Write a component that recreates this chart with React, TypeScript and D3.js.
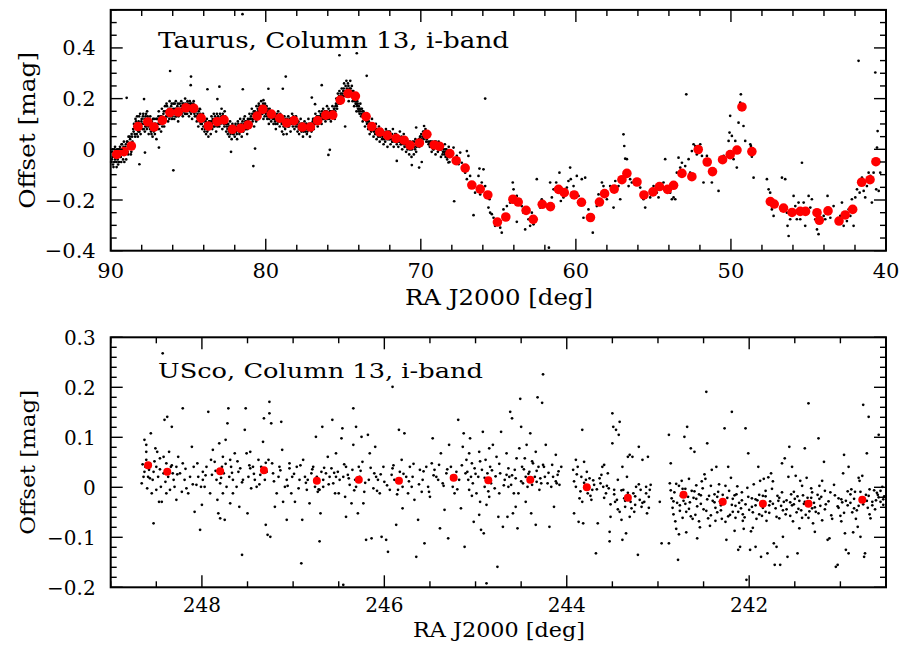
import React from "react";
import * as d3 from "d3";

// ---------------- Taurus panel data ----------------
const tauXTicks = [90, 80, 70, 60, 50, 40];
const tauYTicks = [-0.4, -0.2, 0, 0.2, 0.4];

const tauBinRA = [89.61,89.14,88.67,88.24,87.61,87.21,86.67,86.18,85.65,85.15,84.65,84.17,83.70,83.14,82.69,82.15,81.61,81.14,80.56,80.19,79.64,79.10,78.65,78.18,77.64,77.12,76.65,76.13,75.68,75.19,74.69,74.22,73.53,73.16,72.65,72.15,71.59,71.08,70.69,70.09,69.61,69.14,68.80,68.13,
67.72,67.14,66.71,66.17,65.68,65.06,64.52,64.06,63.72,63.21,62.75,62.17,61.64,61.12,60.75,60.11,59.64,59.06,58.48,58.15,57.53,57.03,56.71,56.06,55.61,55.03,54.61,54.09,53.70,53.16,52.52,52.11,51.53,51.19,50.54,50.05,49.61,49.29,48.65,47.46,47.21,46.61,46.06,45.53,45.19,44.45,44.30,43.74,43.03,42.63,42.15,41.57,41.03,40.65];
const tauBinOff = [-0.020,-0.009,0.013,0.090,0.108,0.088,0.114,0.145,0.147,0.164,0.162,0.123,0.092,0.109,0.116,0.079,0.083,0.096,0.131,0.158,0.139,0.123,0.104,0.113,0.088,0.088,0.113,0.135,0.135,0.194,0.220,0.210,0.129,0.090,0.068,0.055,0.043,0.036,0.016,0.025,0.059,0.017,0.012,-0.017,
-0.045,-0.074,-0.141,-0.157,-0.180,-0.287,-0.267,-0.197,-0.208,-0.241,-0.276,-0.217,-0.226,-0.158,-0.171,-0.180,-0.209,-0.269,-0.208,-0.175,-0.157,-0.120,-0.095,-0.129,-0.180,-0.168,-0.147,-0.158,-0.142,-0.095,-0.108,-0.001,-0.050,-0.088,-0.041,-0.021,-0.003,0.167,-0.009,-0.206,-0.216,-0.232,-0.249,-0.245,-0.245,-0.250,-0.280,-0.243,-0.283,-0.259,-0.237,-0.130,-0.120,-0.049];

const tauDotsBand = [
[89.92,-0.04],[89.88,0.00],[89.85,-0.06],[89.80,-0.02],[89.76,-0.05],[89.72,0.01],[89.68,-0.03],[89.62,-0.07],[89.58,0.00],[89.55,-0.04],[89.50,-0.02],[89.46,-0.05],
[89.40,0.01],[89.35,-0.03],[89.30,0.02],[89.25,-0.01],[89.20,-0.04],[89.15,0.03],[89.10,-0.02],[89.05,0.01],[89.00,-0.04],
[88.95,0.03],[88.90,-0.01],[88.85,0.05],[88.80,0.02],[88.75,0.04],[88.70,-0.02],[88.65,0.06],[88.60,0.03],[88.55,0.08],
[88.50,0.10],[88.45,0.06],[88.40,0.12],[88.35,0.08],[88.30,0.13],[88.25,0.05],[88.20,0.11],[88.15,0.07],[88.10,0.14],[88.05,0.09],
[88.00,0.12],[87.95,0.08],[87.90,0.14],[87.85,0.10],[87.80,0.07],[87.75,0.13],[87.70,0.09],[87.65,0.15],[87.60,0.12],[87.55,0.06],[87.50,0.10],
[87.45,0.13],[87.40,0.07],[87.35,0.11],[87.30,0.05],[87.25,0.09],[87.20,0.12],[87.15,0.06],[87.10,0.10],[87.05,0.04],
[87.00,0.12],[86.95,0.08],[86.90,0.15],[86.85,0.10],[86.80,0.13],[86.75,0.07],[86.70,0.16],[86.65,0.11],[86.60,0.14],[86.55,0.09],
[86.50,0.17],[86.45,0.12],[86.40,0.18],[86.35,0.14],[86.30,0.11],[86.25,0.16],[86.20,0.19],[86.15,0.13],[86.10,0.17],[86.05,0.12],
[86.00,0.15],[85.95,0.18],[85.90,0.12],[85.85,0.16],[85.80,0.19],[85.75,0.13],[85.70,0.17],[85.65,0.11],[85.60,0.15],[85.55,0.18],
[85.50,0.14],[85.45,0.19],[85.40,0.16],[85.35,0.13],[85.30,0.18],[85.25,0.15],[85.20,0.20],[85.15,0.14],[85.10,0.17],[85.05,0.19],
[85.00,0.16],[84.95,0.13],[84.90,0.19],[84.85,0.15],[84.80,0.18],[84.75,0.12],[84.70,0.16],[84.65,0.19],[84.60,0.14],[84.55,0.17],
[84.50,0.15],[84.45,0.11],[84.40,0.14],[84.35,0.09],[84.30,0.13],[84.25,0.16],[84.20,0.10],[84.15,0.12],[84.10,0.08],[84.05,0.14],
[84.00,0.11],[83.95,0.07],[83.90,0.10],[83.85,0.06],[83.80,0.12],[83.75,0.08],[83.70,0.05],[83.65,0.11],[83.60,0.09],[83.55,0.06],
[83.50,0.13],[83.45,0.08],[83.40,0.11],[83.35,0.14],[83.30,0.09],[83.25,0.12],[83.20,0.07],[83.15,0.14],[83.10,0.10],[83.05,0.12],
[83.00,0.09],[82.95,0.14],[82.90,0.11],[82.85,0.16],[82.80,0.08],[82.75,0.13],[82.70,0.10],[82.65,0.15],[82.60,0.12],[82.55,0.07],
[82.50,0.10],[82.45,0.06],[82.40,0.09],[82.35,0.05],[82.30,0.11],[82.25,0.07],[82.20,0.04],[82.15,0.10],[82.10,0.06],[82.05,0.08],
[82.00,0.05],[81.95,0.10],[81.90,0.07],[81.85,0.04],[81.80,0.11],[81.75,0.08],[81.70,0.06],[81.65,0.12],[81.60,0.09],[81.55,0.05],
[81.50,0.11],[81.45,0.07],[81.40,0.10],[81.35,0.13],[81.30,0.08],[81.25,0.11],[81.20,0.06],[81.15,0.12],[81.10,0.09],[81.05,0.14],
[81.00,0.10],[80.95,0.13],[80.90,0.16],[80.85,0.11],[80.80,0.14],[80.75,0.09],[80.70,0.15],[80.65,0.12],[80.60,0.17],[80.55,0.13],
[80.50,0.15],[80.45,0.18],[80.40,0.13],[80.35,0.16],[80.30,0.19],[80.25,0.14],[80.20,0.17],[80.15,0.12],[80.10,0.16],[80.05,0.18],
[80.00,0.14],[79.95,0.17],[79.90,0.12],[79.85,0.15],[79.80,0.10],[79.75,0.16],[79.70,0.13],[79.65,0.11],[79.60,0.15],[79.55,0.12],
[79.50,0.10],[79.45,0.14],[79.40,0.11],[79.35,0.08],[79.30,0.13],[79.25,0.10],[79.20,0.15],[79.15,0.12],[79.10,0.09],[79.05,0.13],
[79.00,0.11],[78.95,0.07],[78.90,0.12],[78.85,0.09],[78.80,0.13],[78.75,0.08],[78.70,0.11],[78.65,0.06],[78.60,0.10],[78.55,0.13],
[78.50,0.09],[78.45,0.12],[78.40,0.07],[78.35,0.11],[78.30,0.14],[78.25,0.09],[78.20,0.12],[78.15,0.08],[78.10,0.11],[78.05,0.13],
[78.00,0.10],[77.95,0.07],[77.90,0.11],[77.85,0.06],[77.80,0.09],[77.75,0.12],[77.70,0.07],[77.65,0.10],[77.60,0.05],[77.55,0.08],
[77.50,0.11],[77.45,0.07],[77.40,0.10],[77.35,0.06],[77.30,0.09],[77.25,0.12],[77.20,0.08],[77.15,0.05],[77.10,0.10],[77.05,0.07],
[77.00,0.09],[76.95,0.12],[76.90,0.08],[76.85,0.11],[76.80,0.14],[76.75,0.10],[76.70,0.13],[76.65,0.09],[76.60,0.12],[76.55,0.15],
[76.50,0.11],[76.45,0.14],[76.40,0.10],[76.35,0.13],[76.30,0.16],[76.25,0.12],[76.20,0.15],[76.15,0.11],[76.10,0.14],[76.05,0.17],
[76.00,0.13],[75.95,0.16],[75.90,0.12],[75.85,0.15],[75.80,0.11],[75.75,0.14],[75.70,0.17],[75.65,0.13],[75.60,0.16],[75.55,0.12],
[75.50,0.17],[75.45,0.20],[75.40,0.16],[75.35,0.22],[75.30,0.19],[75.25,0.23],[75.20,0.18],[75.15,0.21],[75.10,0.24],[75.05,0.20],
[75.00,0.23],[74.95,0.26],[74.90,0.21],[74.85,0.25],[74.80,0.27],[74.75,0.22],[74.70,0.26],[74.65,0.19],[74.60,0.24],[74.55,0.27],
[74.50,0.22],[74.45,0.25],[74.40,0.19],[74.35,0.23],[74.30,0.17],[74.25,0.21],[74.20,0.18],[74.15,0.15],[74.10,0.19],[74.05,0.16],
[74.00,0.17],[73.95,0.14],[73.90,0.18],[73.85,0.13],[73.80,0.16],[73.75,0.11],[73.70,0.15],[73.65,0.12],[73.60,0.09],[73.55,0.14],[73.50,0.11],
[73.45,0.12],[73.40,0.08],[73.35,0.11],[73.30,0.06],[73.25,0.10],[73.20,0.07],[73.15,0.12],[73.10,0.09],[73.05,0.05],
[73.00,0.09],[72.95,0.06],[72.90,0.10],[72.85,0.04],[72.80,0.08],[72.75,0.05],[72.70,0.09],[72.65,0.03],[72.60,0.07],
[72.55,0.08],[72.50,0.04],[72.45,0.07],[72.40,0.02],[72.35,0.06],[72.30,0.03],[72.25,0.08],[72.20,0.05],[72.15,0.01],[72.10,0.07],
[72.05,0.04],[72.00,0.07],[71.95,0.02],[71.90,0.06],[71.85,0.03],[71.80,0.08],[71.75,0.01],[71.70,0.05],[71.65,0.03],[71.60,0.06],[71.55,0.02],
[71.50,0.05],[71.45,0.01],[71.40,0.04],[71.35,0.07],[71.30,0.02],[71.25,0.05],[71.20,0.00],[71.15,0.04],[71.10,0.06],[71.05,0.01],
[71.00,0.03],[70.95,-0.01],[70.90,0.04],[70.85,0.00],[70.80,0.02],[70.75,-0.02],[70.70,0.03],[70.65,0.00],[70.60,-0.03],
[70.50,0.02],[70.45,-0.02],[70.40,0.01],[70.35,0.04],[70.30,-0.01],[70.20,0.03],[70.10,0.01],[70.05,0.05],[70.00,0.02],
[69.95,0.04],[69.85,0.07],[69.75,0.05],[69.70,0.08],[69.65,0.03],[69.55,0.06],[69.50,0.02],
[69.40,0.03],[69.30,-0.01],[69.25,0.02],[69.20,0.00],[69.10,0.03],[69.05,-0.02],[69.00,0.01],
[68.95,0.02],[68.90,-0.01],[68.85,0.03],[68.75,0.00],[68.70,-0.03],[68.65,0.02],[68.60,-0.02],
[68.50,-0.01],[68.45,0.02],[68.40,-0.03],[68.35,0.00],[68.30,-0.04],[68.25,-0.01],[68.20,0.01],[68.15,-0.05]
];

const tauDotsCore = [
[89.97,-0.05],[89.92,-0.01],[89.87,-0.03],[89.82,-0.07],[89.77,0.00],[89.72,-0.04],[89.67,-0.01],[89.62,-0.05],[89.57,-0.02],[89.52,-0.06],[89.47,0.00],
[89.42,-0.03],[89.37,0.00],[89.32,-0.05],[89.27,0.02],[89.22,-0.02],[89.17,0.01],[89.12,-0.05],[89.07,-0.01],[89.02,0.02],
[88.97,0.00],[88.92,0.03],[88.87,-0.02],[88.82,0.01],[88.77,0.05],[88.72,0.02],[88.67,-0.01],[88.62,0.05],[88.57,0.02],[88.52,0.07],
[88.47,0.09],[88.42,0.05],[88.37,0.11],[88.32,0.06],[88.27,0.10],[88.22,0.07],[88.17,0.13],[88.12,0.09],[88.07,0.06],[88.02,0.11],
[87.97,0.10],[87.92,0.13],[87.87,0.08],[87.82,0.12],[87.77,0.09],[87.72,0.14],[87.67,0.08],[87.62,0.13],[87.57,0.09],[87.52,0.12],
[87.47,0.08],[87.42,0.11],[87.37,0.06],[87.32,0.10],[87.27,0.12],[87.22,0.07],[87.17,0.10],[87.12,0.08],[87.07,0.12],[87.02,0.09],
[86.97,0.10],[86.92,0.13],[86.87,0.08],[86.82,0.12],[86.77,0.10],[86.72,0.13],[86.67,0.09],[86.62,0.12],[86.57,0.15],[86.52,0.11],
[86.47,0.15],[86.42,0.13],[86.37,0.17],[86.32,0.13],[86.27,0.15],[86.22,0.12],[86.17,0.16],[86.12,0.14],[86.07,0.18],[86.02,0.13],
[85.97,0.16],[85.92,0.14],[85.87,0.18],[85.82,0.13],[85.77,0.16],[85.72,0.14],[85.67,0.18],[85.62,0.13],[85.57,0.16],[85.52,0.15],
[85.47,0.17],[85.42,0.14],[85.37,0.18],[85.32,0.15],[85.27,0.17],[85.22,0.14],[85.17,0.18],[85.12,0.16],[85.07,0.14],[85.02,0.18],
[84.97,0.17],[84.92,0.15],[84.87,0.18],[84.82,0.14],[84.77,0.17],[84.72,0.15],[84.67,0.18],[84.62,0.16],[84.57,0.13],[84.52,0.16],
[84.47,0.13],[84.42,0.16],[84.37,0.12],[84.32,0.15],[84.27,0.11],[84.22,0.14],[84.17,0.12],[84.12,0.10],[84.07,0.12],[84.02,0.09],
[83.97,0.12],[83.92,0.08],[83.87,0.11],[83.82,0.09],[83.77,0.07],[83.72,0.10],[83.67,0.08],[83.62,0.11],[83.57,0.09],[83.52,0.11],
[83.47,0.10],[83.42,0.12],[83.37,0.09],[83.32,0.11],[83.27,0.13],[83.22,0.10],[83.17,0.12],[83.12,0.09],[83.07,0.13],[83.02,0.11],
[82.97,0.12],[82.92,0.10],[82.87,0.13],[82.82,0.11],[82.77,0.14],[82.72,0.12],[82.67,0.09],[82.62,0.13],[82.57,0.10],[82.52,0.09],
[82.47,0.08],[82.42,0.10],[82.37,0.07],[82.32,0.09],[82.27,0.06],[82.22,0.09],[82.17,0.07],[82.12,0.09],[82.07,0.06],[82.02,0.09],
[81.97,0.07],[81.92,0.09],[81.87,0.06],[81.82,0.08],[81.77,0.10],[81.72,0.07],[81.67,0.09],[81.62,0.07],[81.57,0.10],[81.52,0.08],
[81.47,0.09],[81.42,0.12],[81.37,0.09],[81.32,0.11],[81.27,0.08],[81.22,0.10],[81.17,0.08],[81.12,0.11],[81.07,0.10],[81.02,0.12],
[80.97,0.12],[80.92,0.10],[80.87,0.14],[80.82,0.12],[80.77,0.15],[80.72,0.12],[80.67,0.14],[80.62,0.11],[80.57,0.14],[80.52,0.16],
[80.47,0.14],[80.42,0.17],[80.37,0.15],[80.32,0.17],[80.27,0.16],[80.22,0.14],[80.17,0.18],[80.12,0.15],[80.07,0.13],[80.02,0.16],
[79.97,0.15],[79.92,0.13],[79.87,0.16],[79.82,0.14],[79.77,0.12],[79.72,0.15],[79.67,0.14],[79.62,0.13],[79.57,0.14],[79.52,0.13],
[79.47,0.12],[79.42,0.13],[79.37,0.10],[79.32,0.12],[79.27,0.14],[79.22,0.11],[79.17,0.13],[79.12,0.11],[79.07,0.14],[79.02,0.12],
[78.97,0.10],[78.92,0.12],[78.87,0.10],[78.82,0.11],[78.77,0.09],[78.72,0.12],[78.67,0.10],[78.62,0.12],[78.57,0.09],[78.52,0.11],
[78.47,0.10],[78.42,0.12],[78.37,0.10],[78.32,0.12],[78.27,0.11],[78.22,0.13],[78.17,0.10],[78.12,0.12],[78.07,0.09],[78.02,0.11],
[77.97,0.09],[77.92,0.11],[77.87,0.08],[77.82,0.10],[77.77,0.08],[77.72,0.10],[77.67,0.08],[77.62,0.10],[77.57,0.07],[77.52,0.09],
[77.47,0.09],[77.42,0.08],[77.37,0.10],[77.32,0.07],[77.27,0.09],[77.22,0.10],[77.17,0.08],[77.12,0.10],[77.07,0.09],[77.02,0.10],
[76.97,0.11],[76.92,0.10],[76.87,0.12],[76.82,0.10],[76.77,0.12],[76.72,0.11],[76.67,0.13],[76.62,0.10],[76.57,0.13],[76.52,0.12],
[76.47,0.13],[76.42,0.12],[76.37,0.15],[76.32,0.12],[76.27,0.14],[76.22,0.13],[76.17,0.15],[76.12,0.13],[76.07,0.15],[76.02,0.12],
[75.97,0.14],[75.92,0.13],[75.87,0.15],[75.82,0.13],[75.77,0.15],[75.72,0.13],[75.67,0.15],[75.62,0.14],[75.57,0.16],[75.52,0.15],
[75.47,0.18],[75.42,0.17],[75.37,0.20],[75.32,0.18],[75.27,0.21],[75.22,0.19],[75.17,0.22],[75.12,0.20],[75.07,0.22],[75.02,0.21],
[74.97,0.24],[74.92,0.22],[74.87,0.23],[74.82,0.21],[74.77,0.24],[74.72,0.23],[74.67,0.25],[74.62,0.22],[74.57,0.23],[74.52,0.24],
[74.47,0.21],[74.42,0.23],[74.37,0.20],[74.32,0.22],[74.27,0.19],[74.22,0.20],[74.17,0.18],[74.12,0.17],[74.07,0.18],[74.02,0.15],
[73.97,0.16],[73.92,0.15],[73.87,0.16],[73.82,0.14],[73.77,0.15],[73.72,0.13],[73.67,0.14],[73.62,0.12],[73.57,0.13],[73.52,0.12],
[73.47,0.10],[73.42,0.11],[73.37,0.09],[73.32,0.10],[73.27,0.08],[73.22,0.10],[73.17,0.08],[73.12,0.10],[73.07,0.08],[73.02,0.07],
[72.97,0.08],[72.92,0.07],[72.87,0.08],[72.82,0.06],[72.77,0.07],[72.72,0.06],[72.67,0.08],[72.62,0.05],[72.57,0.07],[72.52,0.06],
[72.47,0.05],[72.42,0.07],[72.37,0.04],[72.32,0.06],[72.27,0.05],[72.22,0.07],[72.17,0.04],[72.12,0.06],[72.07,0.05],[72.02,0.04],
[71.97,0.05],[71.92,0.04],[71.87,0.06],[71.82,0.03],[71.77,0.05],[71.72,0.04],[71.67,0.06],[71.62,0.04],[71.57,0.03],[71.52,0.04],
[71.47,0.03],[71.42,0.05],[71.37,0.03],[71.32,0.04],[71.27,0.02],[71.22,0.04],[71.17,0.03],[71.12,0.02],[71.07,0.04],[71.02,0.02],
[70.97,0.02],[70.92,0.01],[70.87,0.03],[70.82,0.01],[70.77,0.02],[70.72,0.00],[70.67,0.02],[70.62,0.01],[70.57,0.00],[70.52,0.03],
[70.47,0.01],[70.42,0.03],[70.37,0.00],[70.32,0.02],[70.27,0.01],[70.22,0.03],[70.17,0.02],[70.12,0.04],[70.07,0.03],[70.02,0.05],
[69.97,0.06],[69.92,0.03],[69.87,0.05],[69.82,0.04],[69.77,0.07],[69.72,0.05],[69.67,0.06],[69.62,0.04],[69.57,0.05],[69.52,0.03],
[69.47,0.02],[69.42,0.01],[69.37,0.03],[69.32,0.01],[69.27,0.03],[69.22,0.02],[69.17,0.00],[69.12,0.02],[69.07,0.01],[69.02,0.03],
[68.97,0.01],[68.92,0.02],[68.87,0.00],[68.82,0.02],[68.77,0.01],[68.72,0.00],[68.67,0.00],[68.62,0.01],[68.57,-0.01],[68.52,0.00],
[68.47,-0.02],[68.42,0.00],[68.37,-0.01],[68.32,-0.02],[68.27,-0.03],[68.22,-0.02],[68.17,-0.01],[68.12,-0.03]
];

const tauDotsOutliers = [
[81.50,0.533],[75.25,0.371],[74.13,0.379],[86.17,0.309],[84.82,0.287],[88.97,0.203],[87.85,0.198],[87.79,-0.013],[88.15,-0.059],[85.96,-0.083],
[86.89,0.007],[84.84,0.253],[83.76,0.237],[82.99,0.247],[81.48,0.237],[80.80,-0.066],[82.24,-0.010],[80.69,0.003],[78.71,0.287],[78.90,0.239],
[75.87,-0.002],[75.96,-0.022],[73.49,0.290],[71.55,-0.046],[70.58,-0.062],[70.11,-0.072],[69.94,-0.050],[68.22,-0.052],[70.30,0.086],[69.79,0.092],
[79.83,0.239],[80.15,0.194],[76.39,0.253],[74.88,0.090],[77.03,0.204],[76.82,0.178],[82.09,0.066],[78.86,0.059],[84.24,0.158],[83.12,0.198]
];

const tauDotsSparse = [
[67.89,0.007],[67.68,-0.026],[67.46,-0.013],[67.36,-0.053],[67.25,-0.066],[67.03,-0.007],[66.93,-0.026],[67.57,-0.059],[67.14,-0.092],[67.03,-0.118],
[66.82,-0.105],[67.85,-0.205],[66.60,-0.260],[66.22,-0.076],[65.96,-0.079],[66.28,-0.105],[66.07,-0.131],[65.85,-0.145],[66.50,-0.171],[66.17,-0.178],
[65.74,-0.184],[65.57,-0.197],[65.64,-0.230],[65.53,-0.250],[65.42,-0.256],[65.31,-0.270],[65.85,0.200],[65.21,-0.302],[64.88,-0.309],[64.78,-0.329],
[64.88,-0.283],[64.67,-0.237],[64.45,-0.224],[64.24,-0.210],[64.07,-0.131],[64.02,-0.158],[63.81,-0.184],[63.70,-0.210],[63.59,-0.197],[63.49,-0.224],
[63.81,-0.286],[63.38,-0.250],[63.27,-0.316],[63.06,-0.276],[62.95,-0.302],[62.73,-0.296],[62.84,-0.250],[62.52,-0.118],[62.30,-0.230],[62.20,-0.197],
[62.09,-0.210],[61.74,-0.388],[61.66,-0.131],[61.55,-0.190],[61.44,-0.158],[61.27,-0.131],[61.12,-0.171],[61.06,-0.092],[60.97,-0.204],[60.80,-0.190],
[60.58,-0.151],[60.48,-0.125],[60.37,-0.072],[60.33,-0.118],[60.26,-0.171],[60.15,-0.145],[59.94,-0.105],[59.83,-0.184],[59.62,-0.118],[59.40,-0.112],
[59.51,-0.270],[59.19,-0.237],[58.91,-0.329],[58.65,-0.224],[58.54,-0.178],[58.32,-0.131],[58.22,-0.145],[58.00,-0.197],[57.79,-0.145],[57.57,-0.230],
[57.46,-0.125],[57.25,-0.145],[57.14,-0.197],[56.93,0.059],[56.88,0.013],[56.82,-0.037],[56.71,-0.039],[56.60,-0.145],[56.50,-0.118],[56.39,-0.131],
[56.17,-0.125],[56.07,-0.138],[55.85,-0.151],[55.74,-0.184],[55.64,-0.197],[55.53,-0.230],[55.21,-0.190],[54.99,-0.145],[54.78,-0.171],[54.67,-0.190],
[54.35,-0.131],[54.24,-0.039],[54.13,-0.158],[53.92,-0.171],[53.81,-0.197],[53.70,-0.190],[53.59,-0.197],[53.49,-0.092],[53.38,-0.033],[53.27,-0.072],
[53.16,-0.053],[52.95,-0.066],[52.88,0.217],[52.73,-0.039],[52.63,-0.092],[52.52,-0.007],[52.41,0.020],[52.30,0.013],[52.20,-0.020],[51.98,0.020],
[51.94,0.007],[51.87,-0.026],[51.77,-0.131],[51.55,-0.026],[51.34,-0.092],[51.23,-0.131],[51.12,-0.085],[50.80,-0.164],[50.47,-0.026],[50.15,0.033],
[50.05,0.132],[50.09,0.066],[49.94,0.053],[49.83,-0.039],[49.72,0.033],[49.62,-0.072],[49.51,0.105],[49.36,0.217],[49.40,0.184],[49.19,0.092],
[49.08,0.033],[48.75,0.020],[48.71,0.013],[48.65,-0.029],[48.54,-0.112],[47.68,-0.118],[47.57,-0.158],[47.47,-0.171],[47.36,-0.237],[47.25,-0.263],
[46.71,-0.112],[46.50,-0.118],[46.39,-0.250],[46.35,-0.302],[46.28,-0.342],[46.18,-0.276],[45.96,-0.184],[45.85,-0.224],[45.75,-0.276],[45.64,-0.210],
[45.53,-0.276],[45.42,-0.053],[45.31,-0.210],[45.21,-0.302],[45.10,-0.237],[44.99,-0.184],[44.88,-0.230],[44.78,-0.197],[44.56,-0.276],[44.45,-0.316],
[44.35,-0.335],[44.24,-0.289],[44.02,-0.263],[43.92,-0.276],[43.77,-0.184],[43.70,-0.250],[43.59,-0.270],[43.38,-0.224],[42.95,-0.263],[42.84,-0.210],
[42.73,-0.302],[42.52,-0.283],[42.41,-0.237],[42.30,-0.263],[42.09,-0.302],[42.20,-0.197],[41.98,-0.190],[41.87,-0.158],[41.77,0.349],[41.70,-0.171],
[41.66,-0.131],[41.55,-0.112],[41.44,-0.164],[41.34,-0.190],[41.23,-0.145],[41.12,-0.092],[41.01,-0.105],[40.91,-0.210],[40.80,-0.092],[40.69,0.303],
[40.63,-0.158],[40.58,0.007],[40.54,0.072],[40.47,-0.164],[40.37,-0.092]
];

// ---------------- USco panel data ----------------
const uscoXTicks = [248, 246, 244, 242];
const uscoYTicks = [-0.2, -0.1, 0, 0.1, 0.2, 0.3];

const uscoBinRA = [248.59,248.38,247.80,247.32,246.74,246.28,245.84,245.24,244.86,244.40,243.78,243.33,242.72,242.29,241.85,241.35,240.76];
const uscoBinOff = [0.044,0.031,0.032,0.034,0.013,0.015,0.013,0.019,0.014,0.015,0.000,-0.021,-0.015,-0.029,-0.033,-0.033,-0.025];

const uscoDotsEast = [
[248.66,0.008],[248.64,0.021],[248.63,0.031],[248.62,0.041],[248.61,0.055],[248.61,0.071],[248.63,0.095],[248.61,0.085],[248.60,-0.002],[248.59,0.021],
[248.58,0.035],[248.57,0.048],[248.56,0.108],[248.55,-0.012],[248.54,0.015],[248.53,0.031],[248.53,-0.072],[248.51,0.078],[248.50,-0.005],[248.50,0.041],
[248.49,0.071],[248.48,0.021],[248.47,-0.029],[248.46,0.058],[248.45,0.001],[248.44,-0.029],[248.43,0.268],[248.42,0.028],[248.42,0.061],[248.41,0.135],
[248.39,0.048],[248.39,-0.012],[248.38,0.141],[248.37,0.021],[248.36,0.071],[248.35,-0.005],[248.34,0.041],[248.33,0.121],[248.32,0.028],[248.31,0.015],
[248.30,0.001],[248.28,0.041],[248.28,-0.025],[248.26,0.061],[248.24,0.028],[248.22,-0.009],[248.21,0.158],[248.21,0.048],[248.19,0.015],[248.17,-0.002],
[248.15,-0.012],[248.13,0.021],[248.11,0.081],[248.09,0.041],[248.08,-0.049],[248.06,0.005],[248.04,0.021],[248.02,-0.085],[248.01,0.001],[248.00,-0.035],
[247.99,0.031],[247.99,0.015],[247.97,0.001],[247.95,0.041],[247.93,0.151],[247.91,-0.012],[247.89,0.025],[247.88,0.075],[247.86,0.051],[247.84,0.015],
[247.83,-0.025],[247.82,-0.052],[247.81,0.088],[247.80,-0.062],[247.80,0.008],[247.78,0.041],[247.77,-0.012],[247.77,0.061],[247.76,0.028],[247.75,-0.065],
[247.74,0.095],[247.73,0.001],[247.72,0.128],[247.71,0.158],[247.70,0.021],[247.69,0.055],[247.69,-0.032],[247.68,0.041],[247.66,-0.012],[247.66,0.015],
[247.64,0.068],[247.62,0.001],[247.60,0.031],[247.59,-0.039],[247.58,0.038],[247.56,-0.135],[247.55,0.015],[247.53,0.115],[247.52,0.158],[247.51,0.068],
[247.50,-0.052],[247.49,0.021],[247.47,0.038],[247.47,0.071],[247.46,-0.002],[247.44,0.041],[247.42,0.015],[247.40,0.001],[247.38,0.055],[247.36,0.025],
[247.35,0.041],[247.33,0.091],[247.32,0.138],[247.31,0.015],[247.30,-0.075],[247.29,0.031],[247.28,-0.095],[247.27,0.055],[247.26,0.148],[247.26,0.171],
[247.25,-0.099],[247.24,0.128],[247.23,0.048],[247.22,0.028],[247.20,-0.039],[247.18,-0.012],[247.16,0.021],[247.15,0.041],[247.13,0.131],[247.12,0.075],
[247.11,-0.029],[247.09,0.001],[247.07,0.015],[247.07,-0.065],[247.04,0.038],[247.04,0.048],[247.02,-0.012],[247.01,0.021],[246.98,-0.029],[246.96,0.041],
[246.94,-0.002],[246.93,0.015],[246.91,-0.152],[246.90,-0.065],[246.89,0.055],[246.87,0.021],[246.85,-0.005],[246.84,0.015],[246.82,-0.032],[246.80,0.028],
[246.78,0.041],[246.76,0.001],[246.75,0.101],[246.74,0.011],[246.74,0.021],[246.73,-0.009],[246.71,-0.005],[246.71,-0.108],[246.70,-0.052],[246.69,0.031],
[246.68,0.121],[246.67,0.015],[246.67,0.001],[246.64,0.028],[246.62,0.061],[246.60,0.021],[246.58,0.038],[246.57,0.135],[246.56,0.008],[246.54,-0.012],
[246.53,0.068],[246.53,0.021],[246.51,0.031],[246.49,0.015],[246.47,0.098],[246.46,0.118],[246.45,0.021],[246.45,-0.195],[246.43,-0.019],[246.42,0.041],
[246.42,-0.059],[246.40,0.025],[246.38,0.005],[246.36,-0.032],[246.35,0.035],[246.34,0.158],[246.34,0.085],[246.32,0.015],[246.31,0.121],[246.31,0.001],
[246.29,-0.052],[246.28,0.041],[246.27,0.021],[246.25,0.101],[246.24,0.051],[246.23,-0.032],[246.22,-0.009],[246.20,-0.105],[246.18,0.105],[246.17,0.015],
[246.16,0.068],[246.14,-0.102],[246.12,-0.002],[246.11,0.028],[246.10,0.081],[246.09,0.021],[246.07,0.015],[246.05,-0.012],[246.03,-0.099],[246.01,0.041],
[246.00,0.011],[245.98,-0.105],[245.96,-0.129],[245.94,-0.005],[245.92,0.025],[245.91,0.201],[245.91,0.038],[245.89,0.015],[245.87,-0.075],[245.85,-0.005],
[245.84,0.115],[245.83,0.031],[245.81,0.055],[245.80,-0.042],[245.80,0.001],[245.78,0.108],[245.76,0.021],[245.74,-0.012],[245.72,0.041],[245.70,0.001],
[245.69,0.021],[245.67,-0.025],[245.65,-0.139],[245.63,-0.065],[245.61,0.035],[245.59,-0.009],[245.58,0.015],[245.56,-0.112],[245.54,0.041],[245.52,0.001],
[245.50,-0.019],[245.48,0.048],[245.47,0.098],[245.45,0.035],[245.43,0.021],[245.41,0.015],[245.39,-0.082],[245.38,0.068],[245.36,0.008],[245.34,-0.045],
[245.32,0.028],[245.30,-0.102],[245.29,0.085]
];

const uscoDotsWest = [
[245.27,0.041],[245.25,0.001],[245.23,-0.012],[245.21,0.031],[245.19,0.135],[245.18,0.015],[245.16,-0.042],[245.14,0.081],[245.13,0.108],[245.12,-0.119],
[245.11,0.028],[245.10,0.055],[245.08,0.015],[245.07,-0.005],[245.07,0.068],[245.06,0.098],[245.05,0.021],[245.04,0.048],[245.03,0.008],[245.02,-0.069],
[245.01,0.038],[244.99,-0.012],[244.97,0.021],[244.96,-0.055],[244.96,0.071],[244.95,-0.029],[244.94,-0.085],[244.93,0.035],[244.92,0.111],[244.91,-0.092],
[244.90,0.001],[244.89,0.055],[244.88,-0.035],[244.88,-0.192],[244.87,0.028],[244.85,-0.019],[244.85,0.078],[244.84,0.041],[244.83,0.008],[244.81,0.085],
[244.79,-0.002],[244.77,0.061],[244.76,-0.159],[244.75,-0.059],[244.74,-0.012],[244.73,0.028],[244.72,0.111],[244.70,-0.079],[244.68,0.015],[244.66,0.068],
[244.66,0.025],[244.65,-0.059],[244.64,0.001],[244.63,0.021],[244.62,0.151],[244.61,0.005],[244.60,0.138],[244.59,-0.052],[244.58,-0.012],[244.57,0.035],
[244.56,0.018],[244.56,-0.039],[244.54,-0.082],[244.53,-0.012],[244.52,0.078],[244.51,0.177],[244.50,0.121],[244.49,0.041],[244.48,0.008],[244.46,0.058],
[244.45,0.021],[244.45,-0.029],[244.44,0.085],[244.43,0.001],[244.41,0.031],[244.40,0.108],[244.39,-0.052],[244.38,0.005],[244.37,0.048],[244.35,0.021],
[244.34,-0.075],[244.34,0.071],[244.33,0.011],[244.32,0.180],[244.31,0.041],[244.30,-0.005],[244.28,0.008],[244.27,0.169],[244.26,0.226],[244.26,0.045],
[244.24,0.021],[244.23,0.085],[244.21,0.008],[244.19,-0.079],[244.17,0.001],[244.15,0.021],[244.14,-0.039],[244.12,0.065],[244.11,0.008],[244.10,0.025],
[244.08,0.005],[244.06,0.041],
[243.93,0.035],[243.92,-0.052],[243.90,0.055],[243.90,0.001],[243.88,0.041],[243.87,-0.069],[243.86,-0.022],[243.84,0.021],[243.83,0.115],[243.83,-0.029],
[243.82,-0.072],[243.81,0.051],[243.80,0.001],[243.79,0.015],[243.77,-0.012],[243.75,0.018],[243.73,-0.025],[243.72,-0.005],[243.70,0.005],[243.68,-0.132],
[243.66,-0.072],[243.64,0.018],[243.62,0.025],[243.61,0.041],[243.60,0.001],[243.59,0.045],[243.57,-0.012],[243.55,0.028],[243.54,-0.002],[243.53,-0.108],
[243.53,-0.089],[243.52,-0.059],[243.50,0.088],[243.50,0.148],[243.49,0.121],[243.48,-0.005],[243.47,-0.029],[243.46,0.115],[243.45,-0.025],[243.44,0.015],
[243.43,0.105],[243.42,0.131],[243.42,-0.049],[243.40,-0.065],[243.39,0.041],[243.39,-0.105],[243.38,-0.005],[243.37,-0.022],[243.36,-0.039],[243.35,-0.092],
[243.34,0.021],[243.33,0.061],[243.32,-0.019],[243.31,0.065],[243.31,-0.059],[243.30,-0.029],[243.28,0.061],[243.27,-0.012],[243.26,-0.049],[243.25,-0.035],
[243.24,0.001],[243.22,-0.135],[243.21,0.081],[243.20,-0.025],[243.19,-0.005],[243.18,-0.039],[243.17,0.055],[243.15,-0.029],[243.13,0.001],[243.12,-0.052],
[243.11,0.061],[243.10,-0.019],[243.09,-0.005],[243.08,0.005],
[242.98,-0.029],[242.96,-0.112],[242.88,-0.112],
[242.88,0.105],[242.87,0.008],[242.86,0.048],[242.85,-0.022],[242.84,-0.041],[242.83,-0.054],[242.82,-0.010],[242.81,-0.068],[242.80,-0.083],[242.79,-0.031],
[242.78,-0.145],[242.77,-0.094],[242.77,0.003],[242.76,-0.036],[242.75,-0.017],[242.74,0.013],[242.73,-0.061],[242.72,-0.027],[242.71,0.101],[242.70,-0.003],
[242.69,-0.049],[242.69,-0.090],[242.68,0.121],[242.66,0.017],[242.66,-0.043],[242.65,-0.030],[242.64,0.078],[242.63,-0.007],[242.62,-0.063],[242.61,-0.021],
[242.60,0.071],[242.59,-0.055],[242.58,0.004],[242.58,-0.023],[242.57,-0.102],[242.55,-0.014],[242.55,-0.068],[242.54,-0.080],[242.53,-0.033],[242.52,0.012],
[242.51,-0.002],[242.49,0.026],[242.48,0.017],[242.47,0.191],[242.47,-0.047],[242.46,0.088],[242.45,-0.062],[242.44,-0.017],[242.43,-0.077],[242.42,0.003],
[242.41,0.035],[242.40,-0.027],[242.38,-0.014],[242.37,-0.041],[242.37,-0.067],[242.36,0.041],[242.35,-0.050],[242.34,-0.009],[242.33,0.006],[242.32,-0.028],
[242.31,-0.036],[242.30,-0.063],[242.29,-0.015],[242.28,-0.033],[242.27,0.118],[242.26,0.003],[242.26,-0.069],[242.25,-0.105],[242.24,-0.021],[242.23,0.041],
[242.22,-0.007],[242.21,-0.055],[242.20,0.019],[242.19,0.151],[242.18,-0.049],[242.18,-0.023],[242.16,-0.087],[242.15,-0.061],[242.15,-0.037],[242.14,-0.014],
[242.13,0.002],[242.12,-0.125],[242.11,-0.031],[242.10,-0.119],[242.09,-0.042],[242.08,-0.010],[242.07,-0.067],[242.07,-0.054],[242.06,-0.083],[242.04,0.118],
[242.04,-0.034],[242.03,-0.185],[242.02,-0.001],[242.01,0.068],[242.00,-0.045],[241.99,-0.125],[241.98,-0.088],[241.97,-0.022],[241.96,-0.050],[241.96,-0.081],
[241.95,0.006],[241.93,-0.119],[241.93,-0.036],[241.92,-0.063],[241.91,-0.026],[241.90,0.041],[241.89,-0.015],[241.88,0.013],[241.87,-0.139],[241.86,-0.057],
[241.85,-0.041],[241.85,-0.017],[241.84,0.017],[241.82,-0.049],[241.82,-0.007],[241.81,-0.067],[241.80,-0.132],[241.79,0.020],[241.78,-0.036],[241.77,-0.028],
[241.76,0.028],[241.75,-0.003],[241.74,0.012],[241.73,-0.112],[241.72,-0.155],[241.71,-0.042],[241.70,-0.119],[241.69,-0.017],[241.68,-0.027],[241.67,-0.062],
[241.66,-0.155],[241.65,-0.037],[241.64,0.048],[241.64,-0.010],[241.63,-0.099],[241.62,-0.029],[241.61,0.058],[241.60,-0.054],[241.59,-0.044],[241.58,-0.139],
[241.57,0.021],[241.56,0.081],[241.55,-0.030],[241.54,-0.014],[241.53,0.041],[241.53,-0.036],[241.52,-0.068],[241.51,-0.009],[241.50,-0.023],[241.49,0.023],
[241.48,-0.050],[241.47,-0.132],[241.46,-0.043],[241.45,-0.082],[241.45,-0.027],[241.44,0.013],[241.42,0.003],[241.42,-0.061],[241.41,-0.016],[241.40,-0.033],
[241.39,0.078],[241.38,-0.055],[241.37,0.019],[241.36,-0.021],[241.35,0.168],[241.34,-0.048],[241.34,-0.028],[241.32,-0.002],[241.31,-0.042],[241.31,-0.010],
[241.30,-0.072],[241.29,-0.031],[241.28,-0.089],[241.27,-0.049],[241.25,-0.015],[241.24,0.098],[241.23,-0.023],[241.23,0.003],[241.22,-0.037],[241.20,-0.066],
[241.20,0.013],[241.18,0.051],[241.17,-0.007],[241.16,-0.034],[241.14,-0.105],[241.12,-0.102],[241.11,-0.010],[241.09,-0.063],[241.07,0.005],[241.05,-0.159],
[241.03,-0.155],[241.02,-0.041],[241.02,-0.022],[241.00,-0.057],[240.99,-0.068],[240.98,-0.030],[240.97,0.028],[240.96,0.065],[240.95,-0.092],[240.94,-0.027],
[240.94,-0.125],[240.92,-0.036],[240.91,0.041],[240.91,-0.132],[240.89,-0.014],[240.88,-0.004],[240.87,-0.050],[240.86,-0.090],[240.85,-0.042],[240.84,-0.009],
[240.83,-0.063],[240.81,-0.079],[240.80,0.019],[240.80,-0.037],[240.79,0.013],[240.78,-0.099],[240.77,-0.023],[240.76,0.023],[240.75,0.165],[240.74,-0.139],
[240.73,-0.132],[240.72,-0.015],[240.71,0.068],[240.70,-0.041],[240.69,0.141],[240.69,-0.017],[240.68,-0.054],[240.67,-0.062],[240.65,-0.036],[240.63,-0.006],
[240.61,-0.026],[240.60,-0.011],[240.58,0.105],[240.58,-0.020],[240.56,-0.029],[240.54,0.001],[240.53,-0.035],[240.52,-0.018]
];

const uscoDotsCore = [
[248.65,0.046],[248.57,0.018],[248.52,0.052],[248.46,0.036],[248.40,0.011],[248.33,0.044],[248.27,0.026],[248.18,0.037],[248.10,0.006],[248.05,0.048],
[247.96,0.024],[247.90,0.055],[247.85,0.033],[247.79,0.019],[247.74,0.047],[247.67,0.029],[247.61,0.052],[247.56,0.010],[247.48,0.044],[247.43,0.027],
[247.37,0.006],[247.30,0.049],[247.21,0.012],[247.14,0.034],[247.06,0.003],[246.99,0.027],[246.92,0.044],[246.86,0.009],[246.79,0.036],[246.72,-0.004],
[246.66,0.039],[246.61,0.006],[246.55,0.029],[246.50,-0.012],[246.44,0.046],[246.39,0.018],[246.33,-0.006],[246.26,0.033],[246.21,0.009],[246.15,0.039],
[246.08,-0.007],[246.04,0.026],[245.97,0.004],[245.90,0.044],[245.86,-0.014],[245.79,0.027],[245.73,0.012],[245.68,0.047],[245.62,0.006],[245.57,0.032],
[245.51,-0.009],[245.46,0.024],[245.40,0.045],[245.35,0.003],[245.31,0.036],
[245.26,0.022],[245.20,-0.004],[245.15,0.044],[245.09,0.031],[245.04,-0.017],[245.00,0.027],[244.95,0.052],[244.90,0.019],[244.86,-0.008],[244.82,0.034],
[244.78,0.022],[244.74,0.047],[244.69,0.004],[244.64,0.038],[244.60,0.024],[244.55,0.058],[244.50,0.012],[244.47,0.036],[244.42,0.027],[244.38,0.052],
[244.33,0.033],[244.29,0.018],[244.25,0.041],[244.20,0.029],[244.16,0.045],[244.12,0.012],[244.09,0.032],
[243.92,0.012],[243.89,0.026],[243.85,-0.008],[243.81,0.009],[243.78,0.031],[243.74,-0.017],[243.71,0.014],[243.67,-0.004],[243.63,0.008],[243.59,-0.021],
[243.56,0.003],[243.52,-0.034],[243.48,-0.014],[243.44,-0.044],[243.40,-0.006],[243.36,-0.027],[243.33,-0.011],[243.29,-0.042],[243.25,-0.018],[243.21,0.006],
[243.17,-0.031],[243.13,-0.012],[243.10,-0.041],
[242.86,-0.006],[242.83,-0.028],[242.80,0.007],[242.76,-0.047],[242.73,-0.003],[242.70,-0.033],[242.67,-0.019],[242.64,-0.058],[242.60,-0.008],[242.57,-0.038],
[242.53,-0.016],[242.50,-0.044],[242.46,-0.024],[242.42,-0.056],[242.38,-0.030],[242.35,-0.019],[242.31,-0.046],[242.27,-0.027],[242.23,-0.058],[242.19,-0.035],
[242.16,-0.016],[242.12,-0.049],[242.08,-0.026],[242.05,-0.060],[242.01,-0.019],[241.97,-0.039],[241.93,-0.024],[241.89,-0.054],[241.86,-0.029],[241.82,-0.018],
[241.78,-0.051],[241.74,-0.033],[241.70,-0.059],[241.67,-0.021],[241.63,-0.046],[241.59,-0.026],[241.55,-0.057],[241.51,-0.034],[241.47,-0.018],[241.43,-0.046],
[241.39,-0.029],[241.35,-0.061],[241.32,-0.021],[241.28,-0.040],[241.24,-0.052],[241.21,-0.019],[241.17,-0.044],[241.13,-0.028],[241.10,-0.056],[241.06,-0.016],
[241.03,-0.038],[240.99,-0.024],[240.96,-0.051],[240.92,-0.008],[240.89,-0.031],[240.85,-0.023],[240.82,-0.046],[240.78,-0.009],[240.75,-0.034],[240.71,-0.027],
[240.68,-0.004],[240.65,-0.029],[240.62,-0.044],[240.59,-0.015],[240.56,-0.007],[240.53,-0.024]
];

// ---------------- rendering ----------------
const FONT = "'DejaVu Serif', serif";

function fmt(v: number): string {
  if (Math.abs(v) < 1e-9) return "0";
  const s = String(Math.abs(v));
  return (v < 0 ? "\u2212" : "") + s;
}

type PanelProps = {
  xs: d3.ScaleLinear<number, number>;
  ys: d3.ScaleLinear<number, number>;
  xTicks: number[];
  yTicks: number[];
  xMinorStep: number;
  yMinorStep: number;
  dots: number[][][];
  binRA: number[];
  binOff: number[];
  redR: number;
  title: string;
  titleX: number;
  titleY: number;
  titleLen: number;
  fs: number;
  tickFs: number;
  xLabelY: number;
  xTitleX: number;
  xTitleY: number;
  xTitleLen: number;
  yTitleX: number;
  yTitleLen: number;
};

function Panel(p: PanelProps) {
  const [x0, x1] = p.xs.range();
  const [yb, yt] = p.ys.range();
  const [dx0, dx1] = p.xs.domain();
  const [dy0, dy1] = p.ys.domain();
  const xlo = Math.min(dx0, dx1), xhi = Math.max(dx0, dx1);
  const xMinor = d3.range(Math.ceil(xlo / p.xMinorStep - 1e-6) * p.xMinorStep, xhi + 1e-6, p.xMinorStep)
    .filter((v) => !p.xTicks.some((t) => Math.abs(t - v) < 1e-6));
  const yMinor = d3.range(Math.ceil(dy0 / p.yMinorStep - 1e-6) * p.yMinorStep, dy1 + 1e-6, p.yMinorStep)
    .filter((v) => !p.yTicks.some((t) => Math.abs(t - v) < 1e-6));
  const MAJ = 12, MIN = 6;
  const yMid = (yb + yt) / 2;
  return (
    <g>
      <g fill="#000">
        {p.dots.map((arr, k) =>
          arr.map((d, i) => (
            <circle key={k + "-" + i} cx={p.xs(d[0])} cy={p.ys(d[1])} r={1.35} />
          ))
        )}
      </g>
      <g fill="#ff0000">
        {p.binRA.map((ra, i) => (
          <circle key={i} cx={p.xs(ra)} cy={p.ys(p.binOff[i])} r={p.redR} />
        ))}
      </g>
      <rect x={x0} y={yt} width={x1 - x0} height={yb - yt} fill="none" stroke="#000" strokeWidth={2} />
      <g stroke="#000" strokeWidth={1.4}>
        {p.xTicks.map((t) => (
          <g key={"xm" + t}>
            <line x1={p.xs(t)} x2={p.xs(t)} y1={yb} y2={yb - MAJ} />
            <line x1={p.xs(t)} x2={p.xs(t)} y1={yt} y2={yt + MAJ} />
          </g>
        ))}
        {xMinor.map((t) => (
          <g key={"xn" + t}>
            <line x1={p.xs(t)} x2={p.xs(t)} y1={yb} y2={yb - MIN} />
            <line x1={p.xs(t)} x2={p.xs(t)} y1={yt} y2={yt + MIN} />
          </g>
        ))}
        {p.yTicks.map((t) => (
          <g key={"ym" + t}>
            <line x1={x0} x2={x0 + MAJ} y1={p.ys(t)} y2={p.ys(t)} />
            <line x1={x1} x2={x1 - MAJ} y1={p.ys(t)} y2={p.ys(t)} />
          </g>
        ))}
        {yMinor.map((t) => (
          <g key={"yn" + t}>
            <line x1={x0} x2={x0 + MIN} y1={p.ys(t)} y2={p.ys(t)} />
            <line x1={x1} x2={x1 - MIN} y1={p.ys(t)} y2={p.ys(t)} />
          </g>
        ))}
      </g>
      <g fontFamily={FONT} fontSize={p.tickFs} fill="#000">
        {p.xTicks.map((t) => (
          <text key={"xl" + t} x={p.xs(t)} y={p.xLabelY} textAnchor="middle">{fmt(t)}</text>
        ))}
        {p.yTicks.map((t) => (
          <text key={"yl" + t} x={x0 - 15} y={p.ys(t)} dy="0.36em" textAnchor="end">{fmt(t)}</text>
        ))}
      </g>
      <g fontFamily={FONT} fontSize={p.fs} fill="#000">
        <text x={p.titleX} y={p.titleY} textLength={p.titleLen} lengthAdjust="spacingAndGlyphs">{p.title}</text>
        <text x={p.xTitleX} y={p.xTitleY} textLength={p.xTitleLen} lengthAdjust="spacingAndGlyphs">RA J2000 [deg]</text>
        <text transform={`translate(${p.yTitleX},${yMid}) rotate(-90)`} textAnchor="middle" textLength={p.yTitleLen} lengthAdjust="spacingAndGlyphs">Offset [mag]</text>
      </g>
    </g>
  );
}

export default function App() {
  const tauX = d3.scaleLinear().domain([90, 40]).range([110.7, 886]);
  const tauY = d3.scaleLinear().domain([-0.4, 0.55]).range([250.7, 9.9]);
  const uscoX = d3.scaleLinear().domain([249, 240.5]).range([110.7, 886]);
  const uscoY = d3.scaleLinear().domain([-0.2, 0.3]).range([587.3, 337.3]);
  return (
    <svg width={903} height={647} style={{ position: "absolute", left: 0, top: 0, background: "#fff" }}>
      <rect x={0} y={0} width={903} height={647} fill="#fff" />
      <Panel
        xs={tauX} ys={tauY} xTicks={tauXTicks} yTicks={tauYTicks} xMinorStep={2} yMinorStep={0.05}
        dots={[tauDotsBand, tauDotsCore, tauDotsOutliers, tauDotsSparse]} binRA={tauBinRA} binOff={tauBinOff} redR={4.8}
        title="Taurus, Column 13, i-band" titleX={158} titleY={48} titleLen={351} fs={22} tickFs={21}
        xLabelY={278} xTitleX={405} xTitleY={305} xTitleLen={188} yTitleX={35} yTitleLen={157}
      />
      <Panel
        xs={uscoX} ys={uscoY} xTicks={uscoXTicks} yTicks={uscoYTicks} xMinorStep={0.5} yMinorStep={0.02}
        dots={[uscoDotsEast, uscoDotsWest, uscoDotsCore]} binRA={uscoBinRA} binOff={uscoBinOff} redR={4}
        title="USco, Column 13, i-band" titleX={158} titleY={378} titleLen={325} fs={20} tickFs={20}
        xLabelY={612} xTitleX={413} xTitleY={637} xTitleLen={172} yTitleX={35} yTitleLen={145}
      />
    </svg>
  );
}
